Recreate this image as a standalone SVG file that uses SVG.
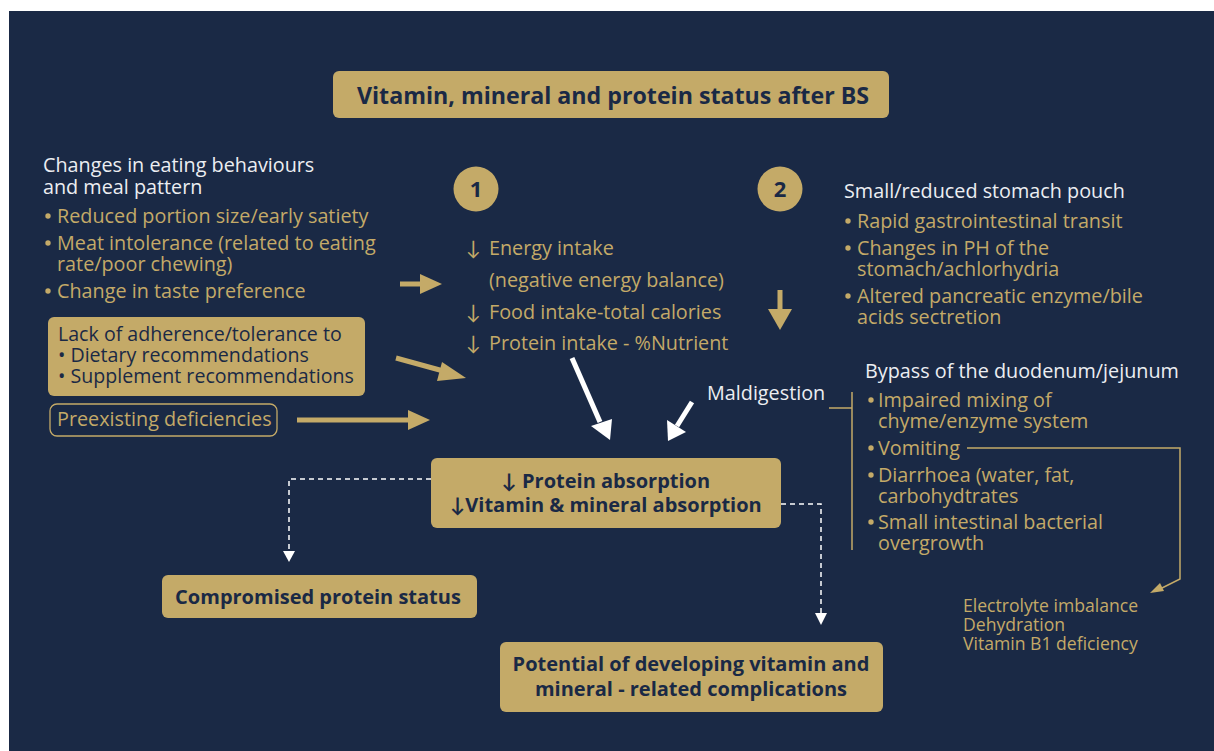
<svg xmlns="http://www.w3.org/2000/svg" width="1214" height="751" viewBox="0 0 1214 751">
  <defs>
    <style>
      .bg { fill: #1a2945; }
      .box { fill: #c4aa68; }
      .outline { fill: none; stroke: #c4aa68; stroke-width: 1.3; }
      .dot { fill: #c4aa68; }
      text { font-family: "Open Sans", Lato, "Liberation Sans", sans-serif; }
      .w { fill: #eceef2; font-size: 19.8px; }
      .g { fill: #c4aa68; font-size: 19.8px; }
      .d { fill: #1a2945; font-size: 19.6px; }
      .b { fill: #1a2945; font-weight: bold; font-size: 20px; }
      .sm { fill: #c4aa68; font-size: 17.6px; }
      .garrow { stroke: #c4aa68; stroke-width: 5; fill: none; }
      .warrow { stroke: #ffffff; stroke-width: 5; fill: none; }
      .dash { stroke: #ffffff; stroke-width: 1.5; stroke-dasharray: 5 4; fill: none; }
      .thin { stroke: #c4aa68; stroke-width: 1.5; fill: none; }
    </style>
  </defs>

  <rect x="0" y="0" width="1214" height="751" fill="#ffffff"/>
  <rect class="bg" x="9" y="11" width="1205" height="740"/>

  <!-- title -->
  <g id="title">
    <rect class="box" x="333" y="71" width="556" height="47" rx="6"/>
    <text x="613" y="104" text-anchor="middle" class="b" style="font-size:23.2px">Vitamin, mineral and protein status after BS</text>
  </g>

  <!-- eating behaviour changes -->
  <g id="eating">
    <text class="w"><tspan x="43" y="172">Changes in eating behaviours</tspan><tspan x="43" y="194">and meal pattern</tspan></text>
    <circle class="dot" cx="48" cy="216" r="2.7"/>
    <circle class="dot" cx="48" cy="243" r="2.7"/>
    <circle class="dot" cx="48" cy="291" r="2.7"/>
    <text class="g"><tspan x="57" y="223">Reduced portion size/early satiety</tspan><tspan x="57" y="250">Meat intolerance (related to eating</tspan><tspan x="57" y="271">rate/poor chewing)</tspan><tspan x="57" y="298">Change in taste preference</tspan></text>
  </g>

  <!-- adherence box -->
  <g id="adherence">
    <rect class="box" x="48" y="317" width="317" height="79" rx="6"/>
    <text class="d"><tspan x="58" y="341">Lack of adherence/tolerance to</tspan><tspan x="58" y="362">• Dietary recommendations</tspan><tspan x="58" y="383">• Supplement recommendations</tspan></text>
  </g>

  <!-- preexisting deficiencies -->
  <g id="preexisting">
    <rect class="outline" x="50" y="404" width="227" height="32" rx="7"/>
    <text class="g" x="57" y="426">Preexisting deficiencies</text>
  </g>

  <!-- number badges -->
  <g id="badge1">
    <circle cx="476" cy="189" r="22.5" fill="#c4aa68"/>
    <text x="476" y="197" text-anchor="middle" class="b" style="font-size:22px">1</text>
  </g>
  <g id="badge2">
    <circle cx="780" cy="189" r="22.5" fill="#c4aa68"/>
    <text x="780" y="197" text-anchor="middle" class="b" style="font-size:22px">2</text>
  </g>

  <!-- intake list -->
  <g id="intake">
    <text class="g"><tspan x="466" y="255">↓</tspan><tspan x="466" y="319">↓</tspan><tspan x="466" y="350">↓</tspan></text>
    <text class="g"><tspan x="489" y="255">Energy intake</tspan><tspan x="489" y="287">(negative energy balance)</tspan><tspan x="489" y="319">Food intake-total calories</tspan><tspan x="489" y="350">Protein intake - %Nutrient</tspan></text>
  </g>

  <!-- stomach pouch -->
  <g id="pouch">
    <text class="w" x="844" y="198">Small/reduced stomach pouch</text>
    <circle class="dot" cx="848" cy="221" r="2.7"/>
    <circle class="dot" cx="848" cy="248" r="2.7"/>
    <circle class="dot" cx="848" cy="296" r="2.7"/>
    <text class="g"><tspan x="857" y="228">Rapid gastrointestinal transit</tspan><tspan x="857" y="255">Changes in PH of the</tspan><tspan x="857" y="276">stomach/achlorhydria</tspan><tspan x="857" y="303">Altered pancreatic enzyme/bile</tspan><tspan x="857" y="324">acids sectretion</tspan></text>
  </g>

  <!-- bypass -->
  <g id="bypass">
    <text class="w" x="865" y="378">Bypass of the duodenum/jejunum</text>
    <circle class="dot" cx="871" cy="400" r="2.7"/>
    <circle class="dot" cx="871" cy="448" r="2.7"/>
    <circle class="dot" cx="871" cy="475" r="2.7"/>
    <circle class="dot" cx="871" cy="522" r="2.7"/>
    <text class="g"><tspan x="878" y="407">Impaired mixing of</tspan><tspan x="878" y="428">chyme/enzyme system</tspan><tspan x="878" y="455">Vomiting</tspan><tspan x="878" y="482">Diarrhoea (water, fat,</tspan><tspan x="878" y="503">carbohydtrates</tspan><tspan x="878" y="529">Small intestinal bacterial</tspan><tspan x="878" y="550">overgrowth</tspan></text>
  </g>

  <g id="maldigestion">
    <text class="w" x="707" y="400">Maldigestion</text>
  </g>

  <g id="consequences">
    <text class="sm"><tspan x="963" y="612">Electrolyte imbalance</tspan><tspan x="963" y="631">Dehydration</tspan><tspan x="963" y="650">Vitamin B1 deficiency</tspan></text>
  </g>

  <!-- absorption box -->
  <g id="absorption">
    <rect class="box" x="431" y="458" width="350" height="70" rx="6"/>
    <text class="b" text-anchor="middle"><tspan x="606" y="488">↓ Protein absorption</tspan><tspan x="606" y="512">↓Vitamin &amp; mineral absorption</tspan></text>
  </g>

  <g id="protein-status">
    <rect class="box" x="162" y="575" width="315" height="43" rx="6"/>
    <text class="b" x="318" y="604" text-anchor="middle">Compromised protein status</text>
  </g>

  <g id="complications">
    <rect class="box" x="500" y="642" width="383" height="70" rx="6"/>
    <text class="b" text-anchor="middle"><tspan x="691" y="671">Potential of developing vitamin and</tspan><tspan x="691" y="696">mineral - related complications</tspan></text>
  </g>

  <!-- connectors -->
  <g id="connectors">
    <!-- gold block arrows -->
    <line class="garrow" x1="400" y1="284" x2="422" y2="284"/>
    <polygon points="420,274 442,284 420,294" fill="#c4aa68"/>
    <line class="garrow" x1="396" y1="358" x2="447" y2="372"/>
    <polygon points="442,362 466,378 437,381" fill="#c4aa68"/>
    <line class="garrow" x1="297" y1="420" x2="410" y2="420"/>
    <polygon points="408,410 430,420 408,430" fill="#c4aa68"/>
    <line class="garrow" x1="780" y1="290" x2="780" y2="312"/>
    <polygon points="768,309 792,309 780,330" fill="#c4aa68"/>

    <!-- white block arrows -->
    <line class="warrow" x1="572" y1="358" x2="600" y2="422"/>
    <polygon points="591,426 612,419 610,440" fill="#ffffff"/>
    <line class="warrow" x1="692" y1="402" x2="677" y2="426"/>
    <polygon points="667,420 686,432 668,441" fill="#ffffff"/>

    <!-- dashed outcome links -->
    <polyline class="dash" points="431,479 289,479 289,552"/>
    <polygon points="283,551 295,551 289,562" fill="#ffffff"/>
    <polyline class="dash" points="781,504 821,504 821,614"/>
    <polygon points="815,613 827,613 821,625" fill="#ffffff"/>

    <!-- maldigestion bracket -->
    <line class="thin" x1="829" y1="408" x2="852" y2="408"/>
    <line class="thin" x1="852" y1="392" x2="852" y2="550"/>

    <!-- vomiting to consequences -->
    <polyline class="thin" points="967,448 1180,448 1180,579 1160,589"/>
    <polygon points="1150,593 1160,583 1164,591" fill="#c4aa68"/>
  </g>
</svg>
